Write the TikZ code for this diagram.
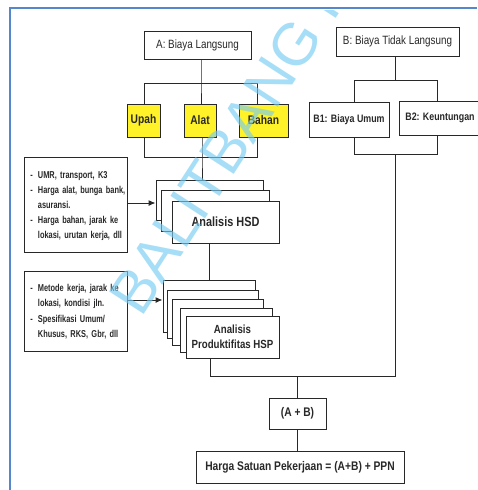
\documentclass[tikz,border=0pt]{standalone}
\usepackage{fontspec}
\setmainfont{Liberation Sans}[FakeStretch=0.82]
\newfontfamily\narrowerfont{Liberation Sans}[FakeStretch=0.74]
\newfontfamily\wmfont{Liberation Sans}
\usetikzlibrary{arrows.meta}
\definecolor{frameblue}{RGB}{85,135,205}
\definecolor{boxyellow}{RGB}{255,242,40}
\definecolor{ink}{RGB}{40,40,40}
\definecolor{wmcyan}{RGB}{120,205,242}
\tikzset{
  box/.style={draw=ink, line width=1pt, fill=white, inner sep=0pt, text=ink, align=center},
  ybox/.style={box, fill=boxyellow},
  conn/.style={draw=ink, line width=1pt},
  arr/.style={conn, -{Latex[length=7pt,width=6pt]}},
  regtxt/.style={font=\fontsize{12}{14}\selectfont},
  boldtxt/.style={font=\fontsize{12.5}{14}\selectfont\bfseries},
  leftbox/.style={box, anchor=north west, align=left, inner xsep=6pt, inner ysep=0pt,
     font=\narrowerfont\fontsize{10}{15}\selectfont\bfseries},
  wm/.style={text=wmcyan, text opacity=0.65, inner sep=0pt, font=\wmfont\fontsize{60}{62}\selectfont},
}
\begin{document}
\begin{tikzpicture}[x=1pt,y=-1pt]
\useasboundingbox (0,0) rectangle (477,490);
% frame
\coordinate (fTL) at (10,8);
\coordinate (fBL) at (10,490);
\coordinate (fTR) at (477,8);
\draw[frameblue, line width=2pt] (fBL) -- (fTL) -- (fTR);

% top A
\node[box, regtxt, minimum width=107, minimum height=28] (A) at (197.5,45) {A: Biaya Langsung};
\node[ybox, boldtxt, minimum width=33, minimum height=33] (Upah) at (143.5,120.5) {Upah};
\node[ybox, boldtxt, minimum width=32, minimum height=33] (Alat) at (200,120.5) {Alat};
\node[ybox, boldtxt, minimum width=49, minimum height=33] (Bahan) at (263.5,120.5) {Bahan};

% top B
\node[box, regtxt, minimum width=123, minimum height=29] (B) at (397.5,41.5) {B: Biaya Tidak Langsung};
\node[box, font=\fontsize{10.8}{13}\selectfont\bfseries, minimum width=80, minimum height=35] (B1) at (349,119.5) {B1: Biaya Umum};
\node[box, font=\fontsize{10.8}{13}\selectfont\bfseries, minimum width=82, minimum height=34] (B2) at (440,118) {B2: Keuntungan};

% left info boxes
\node[leftbox, text width=91, minimum height=95] (L1) at (24,157) {%
\begin{tabular}{@{}l@{\hspace{5pt}}l@{}}
- & UMR, transport, K3\\
- & Harga alat, bunga bank,\\
  & asuransi.\\
- & Harga bahan, jarak ke\\
  & lokasi, urutan kerja, dll
\end{tabular}};
\node[leftbox, text width=91, minimum height=80, font=\narrowerfont\fontsize{10}{15.5}\selectfont\bfseries] (L2) at (24,271) {%
\begin{tabular}{@{}l@{\hspace{5pt}}l@{}}
- & Metode kerja, jarak ke\\
  & lokasi, kondisi jln.\\
- & Spesifikasi Umum/\\
  & Khusus, RKS, Gbr, dll
\end{tabular}};

% HSD stack
\node[box, minimum width=107, minimum height=40] (H1) at (209.5,200) {};
\node[box, minimum width=108, minimum height=41] (H2) at (215,210.5) {};
\node[box, font=\fontsize{13.3}{15}\selectfont\bfseries, minimum width=107, minimum height=42] (H3) at (225.5,222) {Analisis HSD};

% HSP stack
\node[box, minimum width=92, minimum height=52] (P1) at (209,306) {};
\node[box, minimum width=91, minimum height=48] (P2) at (212.5,314) {};
\node[box, minimum width=91, minimum height=46] (P3) at (217.5,322) {};
\node[box, minimum width=92, minimum height=44] (P4) at (226,330) {};
\node[box, font=\fontsize{11.8}{15}\selectfont\bfseries, minimum width=93, minimum height=42] (P5) at (232.5,337) {Analisis\\Produktifitas HSP};

% bottom
\node[box, boldtxt, minimum width=57, minimum height=31] (AB) at (297.5,413.5) {(A + B)};
\node[box, boldtxt, minimum width=208, minimum height=32] (Harga) at (300,467) {Harga Satuan Pekerjaan = (A+B) + PPN};

% junction coordinates
\coordinate (aTop) at (201,83);
\coordinate (aTL) at (144,83);
\coordinate (aTR) at (257,83);
\coordinate (aBL) at (144,157);
\coordinate (aBR) at (257,157);
\coordinate (aMid) at (202,157);
\coordinate (bTop) at (395,80);
\coordinate (bTL) at (354,80);
\coordinate (bTR) at (437,80);
\coordinate (bBL) at (354,154);
\coordinate (bBR) at (437,154);
\coordinate (jr) at (395,376);
\coordinate (jl) at (210,376);
\coordinate (hx) at (209,0);
\coordinate (ar1) at (0,203);
\coordinate (ar2) at (0,300);

% A tree
\draw[conn] (A.south -| aTop) -- (aTop) -- (aTop |- Alat.north);
\draw[conn] (aTL |- Upah.north) -- (aTL) -- (aTR) -- (aTR |- Bahan.north);
\draw[conn] (aBL |- Upah.south) -- (aBL) -- (aBR) -- (aBR |- Bahan.south);
\draw[conn] (aMid |- Alat.south) -- (aMid) -- (aMid |- H1.north);
% B tree
\draw[conn] (B.south -| bTop) -- (bTop);
\draw[conn] (bTL |- B1.north) -- (bTL) -- (bTR) -- (bTR |- B2.north);
\draw[conn] (bBL |- B1.south) -- (bBL) -- (bBR) -- (bBR |- B2.south);
% down chain
\draw[conn] (hx |- H3.south) -- (hx |- P1.north);
\draw[conn] (bTop |- bBL) -- (jr) -- (jl) -- (jl |- P5.south);
\draw[conn] (AB.north |- jl) -- (AB.north);
\draw[conn] (AB.south) -- (AB.south |- Harga.north);
% arrows
\draw[arr] (L1.east |- ar1) -- (H1.west |- ar1);
\draw[arr] (L2.east |- ar2) -- (P1.west |- ar2);

% watermark
\begin{scope}
\clip (10,10) rectangle (477,490);
\node[wm, rotate=57, anchor=base west] (wmark) at (141,319) {BALITBANG PU};
\end{scope}
\end{tikzpicture}
\end{document}
